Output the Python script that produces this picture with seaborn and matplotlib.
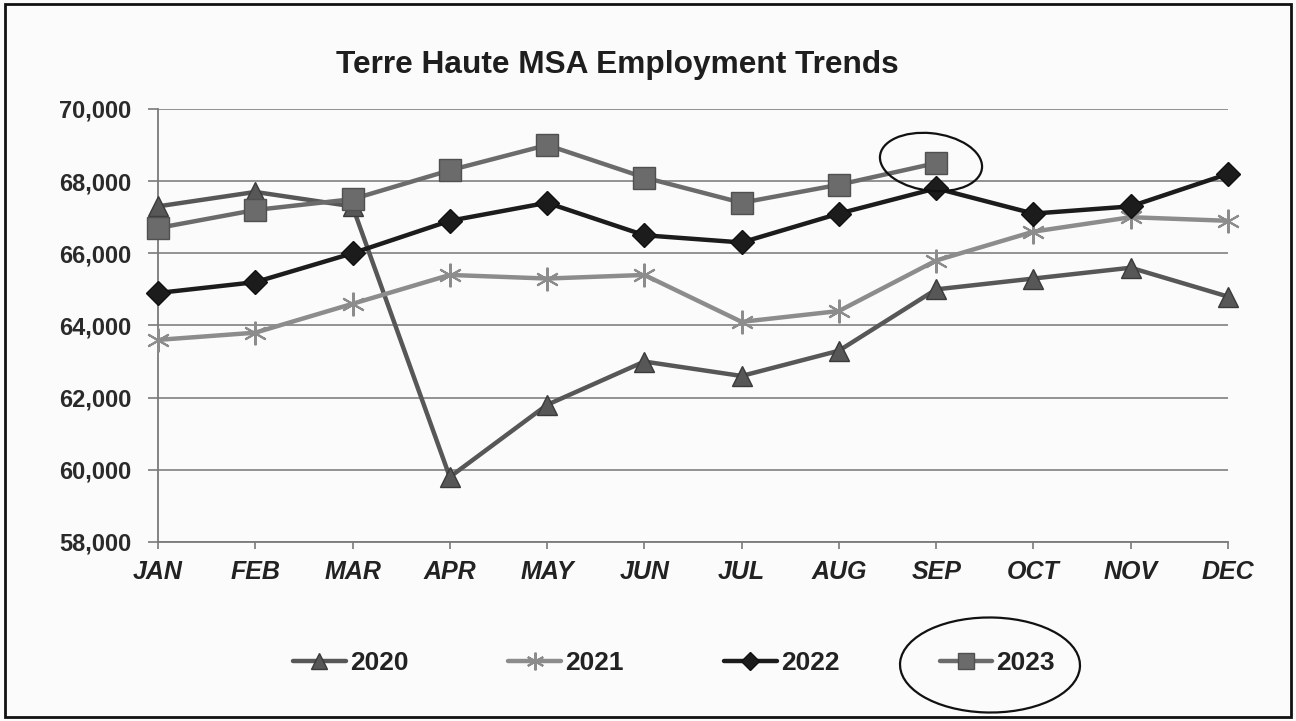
import numpy as np
import pandas as pd
import matplotlib
matplotlib.use("Agg")
import matplotlib.pyplot as plt
import seaborn as sns
from matplotlib.patches import Ellipse, Rectangle

months = ['JAN', 'FEB', 'MAR', 'APR', 'MAY', 'JUN', 'JUL', 'AUG', 'SEP', 'OCT', 'NOV', 'DEC']
emp_2020 = [67300, 67700, 67300, 59800, 61800, 63000, 62600, 63300, 65000, 65300, 65600, 64800]
emp_2021 = [63600, 63800, 64600, 65400, 65300, 65400, 64100, 64400, 65800, 66600, 67000, 66900]
emp_2022 = [64900, 65200, 66000, 66900, 67400, 66500, 66300, 67100, 67800, 67100, 67300, 68200]
emp_2023 = [66700, 67200, 67500, 68300, 69000, 68100, 67400, 67900, 68500, np.nan, np.nan, np.nan]
years = ['2020', '2021', '2022', '2023']
y_ticks = [58000, 60000, 62000, 64000, 66000, 68000, 70000]

df = pd.DataFrame({'Month': months, '2020': emp_2020, '2021': emp_2021,
                   '2022': emp_2022, '2023': emp_2023})
df_long = df.melt(id_vars='Month', var_name='Year', value_name='Employment').dropna()

sns.set_style('white')
plt.rcParams['font.family'] = ['Liberation Sans', 'DejaVu Sans']

line_colors = {'2020': '#575757', '2021': '#8c8c8c', '2022': '#1c1c1c', '2023': '#6b6b6b'}
marker_styles = {'2020': '^', '2021': (6, 2, 0), '2022': 'D', '2023': 's'}
marker_sizes = {'2020': 15, '2021': 17, '2022': 12, '2023': 16}
edge_colors = {'2020': '#3a3a3a', '2021': '#8c8c8c', '2022': '#111111', '2023': '#505050'}

fig = plt.figure(figsize=(12.96, 7.21), dpi=100, facecolor='#fbfbfb')
ax = fig.add_axes([0.1219, 0.2483, 0.8256, 0.6006])
ax.set_facecolor('#fbfbfb')

for yr in years:
    sub = df_long[df_long['Year'] == yr]
    sns.lineplot(data=sub, x='Month', y='Employment', ax=ax, color=line_colors[yr],
                 marker=marker_styles[yr], markersize=marker_sizes[yr],
                 markeredgecolor=edge_colors[yr], markeredgewidth=1.5 if yr == '2021' else 1,
                 linewidth=3.2, label=yr, sort=False, clip_on=False, zorder=3)

handles, labels = ax.get_legend_handles_labels()
ax.get_legend().remove()

ax.set_xlim(0, 11)
ax.set_ylim(58000, 70000)
ax.set_yticks(y_ticks)
ax.set_yticklabels([f'{v:,}' for v in y_ticks], fontsize=17, fontweight='bold', color='#2a2a2a')
ax.set_xticks(range(len(months)))
ax.set_xticklabels(months, fontsize=18, fontweight='bold', fontstyle='italic', color='#222222')
ax.set_xlabel('')
ax.set_ylabel('')
ax.grid(axis='y', color='#8a8a8a', linewidth=1.3)
ax.set_axisbelow(True)
for side in ['top', 'right']:
    ax.spines[side].set_visible(False)
for side in ['left', 'bottom']:
    ax.spines[side].set_color('#7a7a7a')
    ax.spines[side].set_linewidth(1.3)
ax.tick_params(axis='y', direction='out', length=7, width=1.2, color='#7a7a7a', pad=12, left=True)
ax.tick_params(axis='x', direction='out', length=5, width=1.2, color='#7a7a7a', pad=8, bottom=True)

fig.text(0.476, 0.910, 'Terre Haute MSA Employment Trends', fontsize=22.8, fontweight='bold',
         color='#1e1e1e', ha='center', va='center')

leg = fig.legend(handles, labels, loc='center', bbox_to_anchor=(0.52, 0.08), ncol=4,
                 frameon=False, fontsize=19, handlelength=2.0, columnspacing=3.8,
                 handletextpad=0.15, markerscale=0.75)
for t in leg.get_texts():
    t.set_fontweight('bold')
    t.set_color('#222222')

# hand-drawn pen circles on the scan
fig.patches.append(Ellipse((931 / 1296, 1 - 162 / 721), 95 / 1296, 62 / 721, angle=40,
                           transform=fig.transFigure, fill=False, edgecolor='#111111', linewidth=1.6))
fig.patches.append(Ellipse((990 / 1296, 1 - 665 / 721), 180 / 1296, 95 / 721, angle=-4,
                           transform=fig.transFigure, fill=False, edgecolor='#111111', linewidth=1.6))

# outer frame
fig.patches.append(Rectangle((5 / 1296, 4 / 721), 1286 / 1296, 713 / 721, transform=fig.transFigure,
                             fill=False, edgecolor='#111111', linewidth=2))

fig.savefig('out.png', dpi=100, facecolor=fig.get_facecolor())
